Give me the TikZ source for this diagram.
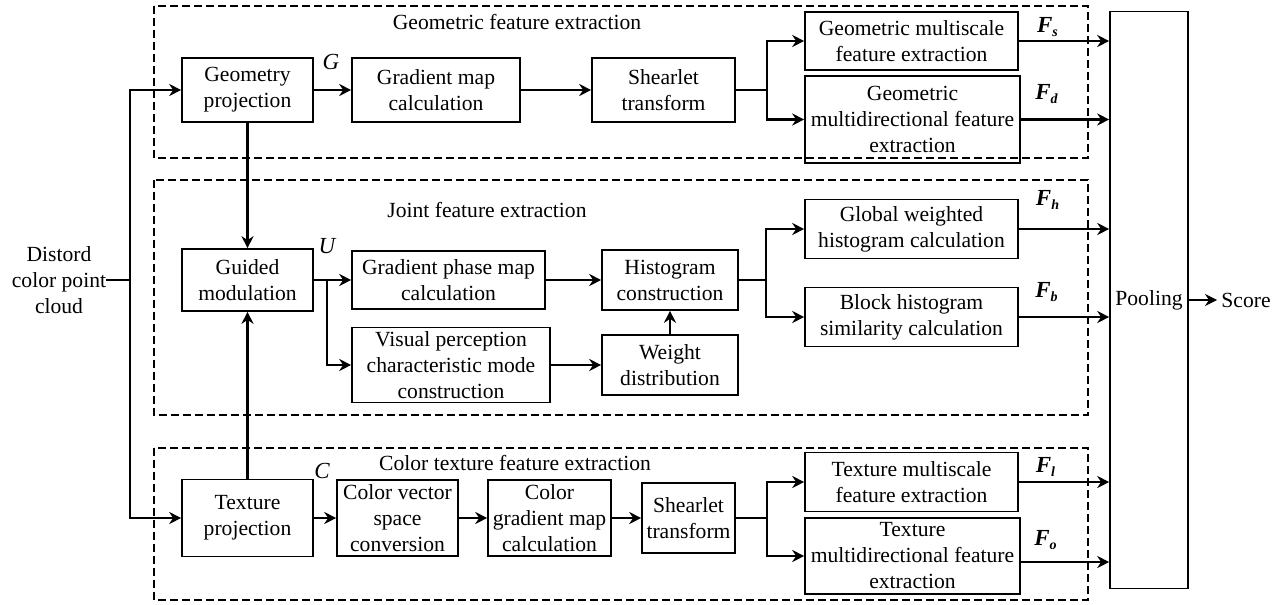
\documentclass[tikz,border=0pt]{standalone}
\usepackage{fontspec}
\setmainfont{Liberation Serif}
\usetikzlibrary{arrows.meta}

\begin{document}
\begin{tikzpicture}[x=0.5pt,y=-0.5pt,
  blk/.style={draw,line width=0.8pt,align=center,inner sep=1pt,font=\fontsize{10.8}{13}\selectfont},
  txt/.style={align=center,inner sep=0pt,font=\fontsize{10.8}{13}\selectfont},
  sym/.style={inner sep=0pt,font=\fontsize{11.5}{13}\selectfont\itshape},
  feat/.style={inner sep=0pt,font=\fontsize{11.5}{13}\selectfont\bfseries\itshape},
  grp/.style={draw,line width=0.6pt,dash pattern=on 4pt off 2pt},
  line/.style={line width=1.2pt},
  flow/.style={line width=1.2pt,-{Stealth[length=6pt,width=6pt]}}] %
  \useasboundingbox (0,0) rectangle (1280,605);
  % dashed groups
  \draw[grp] (154,6) rectangle (1088,158);
  \draw[grp] (154,180) rectangle (1088,415);
  \draw[grp] (154,448) rectangle (1088,600);
  \node[txt] (tgeo) at (517,22) {Geometric feature extraction};
  \node[txt] (tjoint) at (487,210) {Joint feature extraction};
  \node[txt] (ttex) at (515,463) {Color texture feature extraction};
  % input
  \node[txt] (input) at (59,280) {Distord\\color point\\cloud};
  \coordinate (jin) at (130,280);
  % geometric row
  \node[blk,minimum width=65.5pt,minimum height=32pt] (geoproj) at (247.5,90) {Geometry\\projection};
  \node[blk,minimum width=84pt,minimum height=32pt] (gradmap) at (436,90) {Gradient map\\calculation};
  \node[blk,minimum width=71.5pt,minimum height=32pt] (shear1) at (663.5,90) {Shearlet\\transform};
  \node[blk,minimum width=106.5pt,minimum height=29pt] (geoms) at (911.5,41) {Geometric multiscale\\feature extraction};
  \node[blk,minimum width=107.5pt,minimum height=43.5pt] (geomd) at (912.5,119.5) {Geometric\\multidirectional feature\\extraction};
  % joint row
  \node[blk,minimum width=65.5pt,minimum height=31pt] (guided) at (247.5,280) {Guided\\modulation};
  \node[blk,minimum width=96.5pt,minimum height=29pt] (phase) at (448.5,280) {Gradient phase map\\calculation};
  \node[blk,minimum width=68pt,minimum height=30pt] (hist) at (670,280) {Histogram\\construction};
  \node[blk,minimum width=99pt,minimum height=37.5pt] (visual) at (451,365) {Visual perception\\characteristic mode\\construction};
  \node[blk,minimum width=68pt,minimum height=30pt] (weight) at (670,365) {Weight\\distribution};
  \node[blk,minimum width=106.5pt,minimum height=29.5pt] (globalh) at (911.5,229) {Global weighted\\histogram calculation};
  \node[blk,minimum width=106.5pt,minimum height=29.5pt] (blockh) at (911.5,317) {Block histogram\\similarity calculation};
  % texture row
  \node[blk,minimum width=65.5pt,minimum height=38.5pt] (texproj) at (247.5,518) {Texture\\projection};
  \node[blk,minimum width=60.5pt,minimum height=38pt] (colvec) at (397.5,518) {Color vector\\space\\conversion};
  \node[blk,minimum width=61.5pt,minimum height=38pt] (colgrad) at (549.5,518) {Color\\gradient map\\calculation};
  \node[blk,minimum width=46.5pt,minimum height=35pt] (shear2) at (688.5,518) {Shearlet\\transform};
  \node[blk,minimum width=106.5pt,minimum height=29.5pt] (texms) at (911.5,482) {Texture multiscale\\feature extraction};
  \node[blk,minimum width=107.5pt,minimum height=38pt] (texmd) at (912.5,556) {Texture\\multidirectional feature\\extraction};
  % pooling
  \node[blk,minimum width=39pt,minimum height=288.5pt] (pool) at (1149,300) {Pooling};
  \node[txt,inner sep=2pt] (score) at (1246,300) {Score};
  % symbols
  \node[sym] (symG) at (331,62) {G};
  \node[sym] (symU) at (327,246) {U};
  \node[sym] (symC) at (322,471) {C};
  \node[feat] (fs) at (1048,27) {F\textsubscript{\fontsize{7}{7}\selectfont s}};
  \node[feat] (fd) at (1047,94) {F\textsubscript{\fontsize{7}{7}\selectfont d}};
  \node[feat] (fh) at (1048,200) {F\textsubscript{\fontsize{7}{7}\selectfont h}};
  \node[feat] (fb) at (1047,292) {F\textsubscript{\fontsize{7}{7}\selectfont b}};
  \node[feat] (fl) at (1046,467) {F\textsubscript{\fontsize{7}{7}\selectfont l}};
  \node[feat] (fo) at (1046,540) {F\textsubscript{\fontsize{7}{7}\selectfont o}};
  % input connectors
  \draw[line] (input.east) -- (jin);
  \draw[flow] (jin) |- (geoproj.west);
  \draw[flow] (jin) |- (texproj.west);
  \draw[flow] (geoproj.south) -- (guided.north);
  \draw[flow] (texproj.north) -- (guided.south);
  % geometric flow
  \draw[flow] (geoproj) -- (gradmap);
  \draw[flow] (gradmap) -- (shear1);
  \coordinate (f1) at (767,90);
  \draw[line] (shear1.east) -- (f1);
  \draw[flow] (f1) |- (geoms.west);
  \draw[flow] (f1) |- (geomd.west);
  % joint flow
  \coordinate (fu) at (327,280);
  \draw[line] (guided.east) -- (fu);
  \draw[flow] (fu) -- (phase.west);
  \draw[flow] (fu) |- (visual.west);
  \draw[flow] (phase) -- (hist);
  \draw[flow] (visual) -- (weight);
  \draw[flow] (weight.north) -- (hist.south);
  \coordinate (f2) at (766,280);
  \draw[line] (hist.east) -- (f2);
  \draw[flow] (f2) |- (globalh.west);
  \draw[flow] (f2) |- (blockh.west);
  % texture flow
  \draw[flow] (texproj) -- (colvec);
  \draw[flow] (colvec) -- (colgrad);
  \draw[flow] (colgrad) -- (shear2);
  \coordinate (f3) at (767,518);
  \draw[line] (shear2.east) -- (f3);
  \draw[flow] (f3) |- (texms.west);
  \draw[flow] (f3) |- (texmd.west);
  % to pooling
  \draw[flow] (geoms.east) -- (geoms.east -| pool.west);
  \draw[flow] (geomd.east) -- (geomd.east -| pool.west);
  \draw[flow] (globalh.east) -- (globalh.east -| pool.west);
  \draw[flow] (blockh.east) -- (blockh.east -| pool.west);
  \draw[flow] (texms.east) -- (texms.east -| pool.west);
  \draw[flow] ([yshift=-3pt]texmd.east) -- ([yshift=-3pt]texmd.east -| pool.west);
  \draw[flow] (pool.east) -- (score.west);
\end{tikzpicture}
\end{document}
